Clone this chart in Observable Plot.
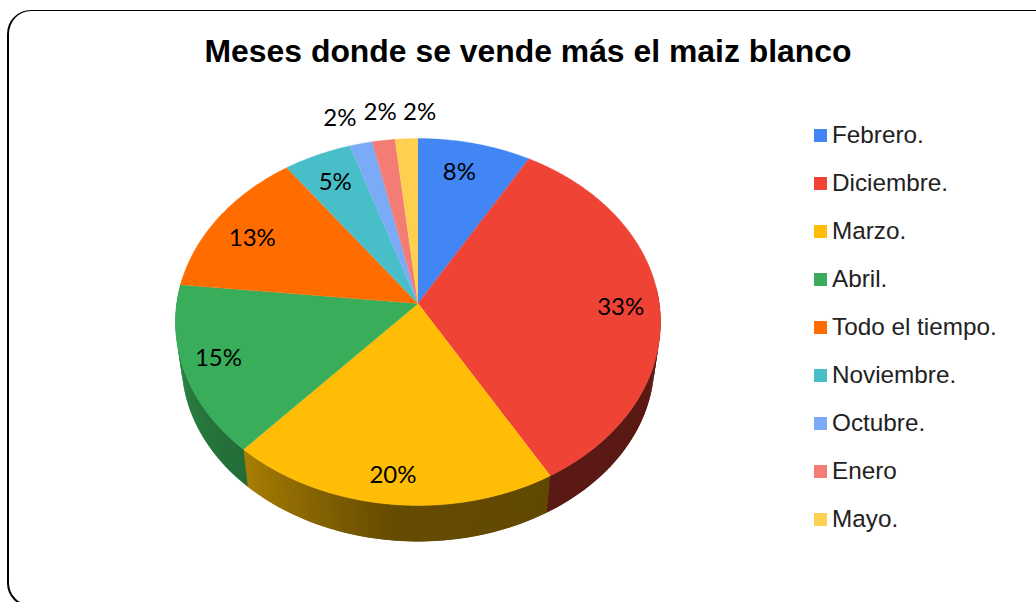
<!DOCTYPE html>
<html lang="es">
<head>
<meta charset="utf-8">
<script src="https://cdn.jsdelivr.net/npm/d3@7"></script>
<script src="https://cdn.jsdelivr.net/npm/@observablehq/plot@0.6"></script>
<style>
  html, body { margin: 0; padding: 0; background: #fff; overflow: hidden; }
  #page { position: relative; width: 1036px; height: 602px; overflow: hidden; }
  #frame { position: absolute; left: 7px; top: 10px; width: 1200px; height: 597px; border: solid #000; border-width: 1.5px 2px 2px 2px; border-radius: 24px; box-sizing: border-box; }
  #title { position: absolute; left: 8px; top: 31px; width: 1040px; text-align: center; margin: 0; font: bold 31.9px/40px "Liberation Sans", Arial, sans-serif; color: #000; }
  #chart { position: absolute; left: 0; top: 0; }
  #legend { position: absolute; left: 814px; top: 111px; font: 24.3px/48px "Liberation Sans", Arial, sans-serif; color: #222; }
  .row { display: flex; align-items: center; height: 48px; white-space: nowrap; }
  .sw { width: 13px; height: 13px; margin-right: 5px; flex: none; }
</style>
</head>
<body>
<div id="page">
  <div id="frame"></div>
  <div id="chart"></div>
  <h1 id="title"></h1>
  <div id="legend"></div>
</div>
<script>
const W = 1036, H = 602;
const titleText = "Meses donde se vende más el maiz blanco";

// Categories and values (respondents; they round to the printed percentages)
const months = ["Febrero.", "Diciembre.", "Marzo.", "Abril.", "Todo el tiempo.", "Noviembre.", "Octubre.", "Enero", "Mayo."];
const counts = [5, 20, 12, 9, 8, 3, 1, 1, 1];
const colors = ["#4285f4", "#ee4335", "#ffbe05", "#39ad5a", "#ff6d01", "#48bec8", "#7baaf7", "#f37d75", "#fdd04f"];

// Label placement, as a fraction of the pie radius along each slice's middle angle
const labelRadius = [0.8, 0.84, 0.87, 0.85, 0.8, 0.8, 1.14, 1.18, 1.18];
const labelNudgeX = [-5, 0, -1, -2, -5, -1, -14, 2, 15];
const labelNudgeY = [-1, 4, 0, -2, 5, 0, -5, -2, 0];

// Perspective of the tilted pie
const apex = {x: 417.5, y: 303};
const radiusX = 241.3, radiusY = 181.6, tilt = 0.1008;
const rimDepth = 41, rimScale = 0.975;

const rad = (t) => t * Math.PI / 180;
function project(theta, r = 1) {
  const c = Math.cos(rad(theta)), s = Math.sin(rad(theta)), den = 1 + tilt * r * c;
  return {x: radiusX * r * s / den, y: -radiusY * r * c / den};
}
function rim(theta) {
  const p = project(theta);
  return {x: p.x * rimScale, y: p.y * rimScale + rimDepth};
}

const total = d3.sum(counts);
const cum = d3.cumsum(counts);
const slices = months.map((m, i) => ({
  month: m,
  start: (i ? cum[i - 1] : 0) / total * 360,
  end: cum[i] / total * 360,
  pct: Math.round(counts[i] / total * 100) + "%",
  labelRadius: labelRadius[i],
  nudgeX: labelNudgeX[i],
  nudgeY: labelNudgeY[i]
}));

// Top surface polygons
const topPts = slices.flatMap((s) => {
  const n = Math.max(2, Math.ceil((s.end - s.start) * 2));
  const pts = [{month: s.month, x: 0, y: 0}];
  for (let j = 0; j <= n; j++) {
    const p = project(s.start + (s.end - s.start) * j / n);
    pts.push({month: s.month, x: p.x, y: p.y});
  }
  return pts;
});

// Side wall facets, shaded by angle; each one overlaps the next so no seams show
const shade = d3.scaleLinear().domain([150, 186, 221.9, 222, 276]).range([0.38, 0.4, 0.66, 0.62, 0.82]).clamp(true);
const wallPts = [];
for (let t = 85; t < 278; t += 1) {
  const mid = t + 0.5;
  const i = slices.findIndex((s) => mid >= s.start && mid < s.end);
  const base = d3.rgb(colors[i]), k = shade(mid);
  const c = d3.rgb(base.r * k, base.g * k, base.b * k).formatHex();
  const a = project(t), b = project(t + 2), q = rim(t + 2), r = rim(t);
  [a, b, q, r].forEach((p) => wallPts.push({id: t, c, x: p.x, y: p.y}));
}

const labels = slices.map((s) => {
  const p = project((s.start + s.end) / 2, s.labelRadius);
  return {text: s.pct, x: p.x + s.nudgeX, y: p.y + s.nudgeY};
});

const chart = Plot.plot({
  width: W, height: H, margin: 0,
  style: {background: "transparent"},
  x: {domain: [-apex.x, W - apex.x], range: [0, W], axis: null},
  y: {domain: [-apex.y, H - apex.y], range: [0, H], axis: null},
  color: {domain: months, range: colors},
  marks: [
    Plot.line(wallPts, {x: "x", y: "y", z: "id", fill: {value: "c", scale: null}, stroke: "none"}),
    Plot.line(topPts, {x: "x", y: "y", z: "month", fill: "month", stroke: "month", strokeWidth: 0.4}),
    Plot.text(labels, {x: "x", y: "y", text: "text", fontSize: 24, fontFamily: "Lato, 'Noto Sans', sans-serif", fill: "#000", textAnchor: "middle", lineAnchor: "middle"})
  ]
});
document.getElementById("chart").append(chart);
document.getElementById("title").textContent = titleText;

const legend = d3.select("#legend").selectAll("div").data(months).join("div").attr("class", "row");
legend.append("span").attr("class", "sw").style("background", (d, i) => colors[i]);
legend.append("span").text((d) => d);
</script>
</body>
</html>
